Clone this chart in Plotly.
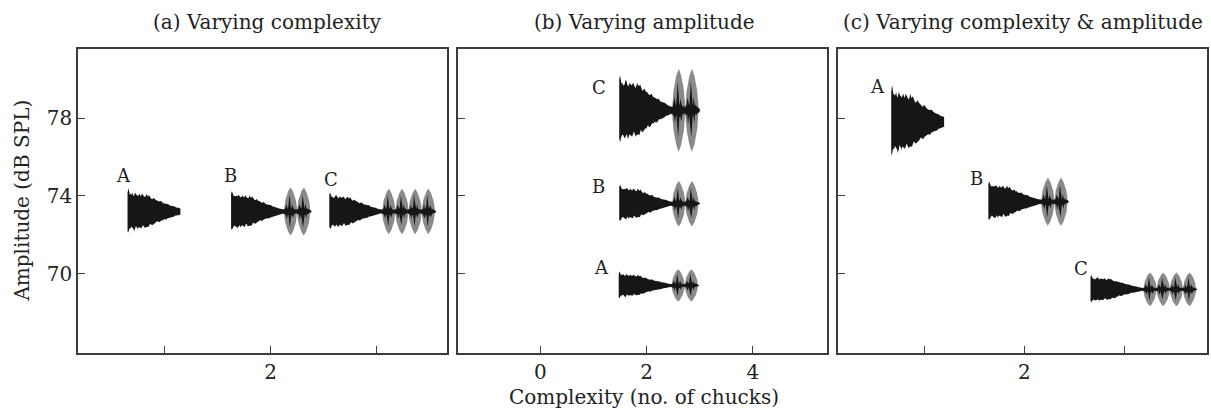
import numpy as np
import plotly.graph_objects as go

# ---------------- data ----------------
panel_titles = ["(a) Varying complexity", "(b) Varying amplitude",
                "(c) Varying complexity & amplitude"]
call_labels = ["A", "B", "C"]
# glyph centre on the complexity axis
complexity_a = [-0.2, 2.0, 4.1]
complexity_b = [2.22, 2.23, 2.23]
complexity_c = [-0.13, 2.07, 4.37]
# amplitude (dB SPL) of each call
amplitude_a = [73.2, 73.2, 73.2]
amplitude_b = [69.4, 73.6, 78.4]
amplitude_c = [77.8, 73.7, 69.2]
# number of chucks in each call
chucks_a = [0, 2, 4]
chucks_b = [2, 2, 2]
chucks_c = [0, 2, 4]
y_tick_vals = [70, 74, 78]
y_tick_text = ["70", "74", "78"]
x_tick_vals = [0, 2, 4]
x_tick_text_b = ["0", "2", "4"]
x_tick_text_ac = ["", "2", ""]
x_title = "Complexity (no. of chucks)"
y_title = "Amplitude (dB SPL)"

# ---------------- style / geometry ----------------
W, H = 1211, 409
M = dict(l=78, r=2, t=49, b=56)
PW = W - M["l"] - M["r"]
PH = H - M["t"] - M["b"]
domains = [[0.0, 0.3271], [0.3369, 0.6631], [0.6731, 1.0]]
x_ranges = [[-1.632, 5.329], [-1.54, 5.385], [-1.72, 5.64]]
y_range = [65.93, 81.55]
whine_half_px = [[20.5, 18.5, 17.5], [12.5, 17.5, 32.0], [32.5, 18.5, 13.0]]
label_off_px = [[(-4, -36), (-1, -36), (2, -32)],
                [(-17, -18), (-21, -17), (-20, -23)],
                [(-14, -35), (-12, -23), (-10, -21)]]
title_shift = [5, 2, 1]
WHINE_LEN = 53.0
CHUCK_W = 13.2
BLACK = "#161616"
GREY = "#8a8a8a"
AXC = "#3c3c3c"
FONT = "DejaVu Serif"
TXT = "#222222"

panels = [
    (complexity_a, amplitude_a, chucks_a),
    (complexity_b, amplitude_b, chucks_b),
    (complexity_c, amplitude_c, chucks_c),
]

fig = go.Figure()


def jitter(t, ph):
    return (0.045 * np.sin(2 * np.pi * 8.3 * t + ph)
            + 0.035 * np.sin(2 * np.pi * 14.7 * t + 1.7 * ph + 0.4)
            + 0.03 * np.abs(np.sin(2 * np.pi * 11.1 * t + 2.3 * ph + 1.1)) ** 6
            + 0.02 * np.sin(2 * np.pi * 23.0 * t + 0.7 * ph))


def whine_profile(t, has_chucks, ph):
    end = 0.09 if has_chucks else 0.14
    u = np.clip((t - 0.4) / 0.6, 0, 1)
    plateau = 0.84 - 0.1 * np.clip(t / 0.4, 0, 1)
    base = np.where(t < 0.4, plateau, 0.74 - (0.74 - end) * u ** 0.8)
    env = base + jitter(t, ph) * np.clip(base, 0.0, 0.8) / 0.8
    env += 0.2 * np.exp(-((t - 0.018) / 0.014) ** 2)
    env += 0.09 * np.exp(-((t - 0.09 - 0.03 * ph) / 0.012) ** 2)
    env += 0.08 * np.exp(-((t - 0.22 + 0.02 * ph) / 0.012) ** 2)
    env += 0.06 * np.exp(-((t - 0.36 + 0.02 * ph) / 0.012) ** 2)
    return np.maximum(env, end * 0.8)


def add_poly(xref_axis, yref_axis, xs, ys, color):
    fig.add_trace(go.Scatter(x=xs, y=ys, mode="lines", fill="toself",
                             fillcolor=color, line=dict(width=0, color=color),
                             hoverinfo="skip", showlegend=False,
                             xaxis=xref_axis, yaxis=yref_axis))


annotations = []
for p, (cx_list, amp_list, nch_list) in enumerate(panels):
    xa = "x" if p == 0 else f"x{p + 1}"
    ya = "y" if p == 0 else f"y{p + 1}"
    pxx = (domains[p][1] - domains[p][0]) * PW / (x_ranges[p][1] - x_ranges[p][0])
    pxy = PH / (y_range[1] - y_range[0])
    for i in range(3):
        cx, cy, n = cx_list[i], amp_list[i], nch_list[i]
        h = whine_half_px[p][i]
        hc = 1.3 * h
        total = WHINE_LEN + n * CHUCK_W
        x0 = cx - total / 2 / pxx  # whine start in data units

        # whine
        t = np.linspace(0, 1, 260)
        top = whine_profile(t, n > 0, 0.0 + 0.5 * i) * h
        bot = whine_profile(t, n > 0, 1.3 + 0.5 * i) * h * 0.97
        xw = x0 + t * WHINE_LEN / pxx
        xs = np.concatenate([xw, xw[::-1]])
        ys = np.concatenate([cy + top / pxy, (cy - bot / pxy)[::-1]])
        add_poly(xa, ya, xs, ys, BLACK)

        if n > 0:
            cstart = WHINE_LEN
            # grey chucks
            for k in range(n):
                u = np.linspace(0, 1, 60)
                v = np.abs(2 * u - 1)
                half = hc * (1 - v ** 1.25) ** 0.55
                xpx = cstart + (k + u) * CHUCK_W
                xs = np.concatenate([x0 + xpx / pxx, (x0 + xpx / pxx)[::-1]])
                ys = np.concatenate([cy + half / pxy, (cy - half / pxy)[::-1]])
                add_poly(xa, ya, xs, ys, GREY)
            # black core through the chucks
            L = n * CHUCK_W + 2.5
            s = np.linspace(0, L, int(L * 5))
            core_t = 0.09 * h * np.ones_like(s)
            core_b = 0.09 * h * np.ones_like(s)
            for k in range(n):
                c = (k + 0.5) * CHUCK_W
                loc = np.clip(1 - np.abs(s - c) / (0.5 * CHUCK_W), 0, 1)
                core_t += 0.12 * h * loc ** 0.7
                core_b += 0.12 * h * loc ** 0.7
                core_t += 0.58 * hc * np.clip(1 - np.abs(s - c) / 1.3, 0, 1)
                core_b += 0.52 * hc * np.clip(1 - np.abs(s - c - 0.4) / 1.3, 0, 1)
                for d, a in ((-0.25, 0.22), (0.22, 0.18)):
                    core_t += a * hc * np.clip(1 - np.abs(s - c - d * CHUCK_W) / 0.9, 0, 1)
                    core_b += (a * 0.9) * hc * np.clip(1 - np.abs(s - c - d * CHUCK_W - 0.5) / 0.9, 0, 1)
            core_t += 0.03 * h * np.sin(2 * np.pi * s / 1.7)
            core_b += 0.03 * h * np.sin(2 * np.pi * s / 2.1 + 1)
            tail = np.clip((L - s) / 2.5, 0, 1)
            core_t = np.where(s > L - 2.5, core_t * tail + 0.02 * h, core_t)
            core_b = np.where(s > L - 2.5, core_b * tail + 0.02 * h, core_b)
            xpx = cstart - 1 + s
            xs = np.concatenate([x0 + xpx / pxx, (x0 + xpx / pxx)[::-1]])
            ys = np.concatenate([cy + core_t / pxy, (cy - core_b / pxy)[::-1]])
            add_poly(xa, ya, xs, ys, BLACK)

        dx, dy = label_off_px[p][i]
        annotations.append(dict(x=x0, y=cy, xref=xa, yref=ya, text=call_labels[i],
                                showarrow=False, xshift=dx, yshift=-dy,
                                xanchor="center", yanchor="middle",
                                font=dict(family=FONT, size=18, color=TXT)))

    annotations.append(dict(x=0.5, y=(H - M["b"] - 22) / PH, xref=f"{xa} domain",
                            yref="paper", text=panel_titles[p], showarrow=False,
                            xshift=title_shift[p], xanchor="center", yanchor="middle",
                            font=dict(family=FONT, size=20, color=TXT)))

annotations.append(dict(x=(645 - M["l"]) / PW, y=(H - M["b"] - 397) / PH,
                        xref="paper", yref="paper", text=x_title, showarrow=False,
                        xanchor="center", yanchor="middle",
                        font=dict(family=FONT, size=20, color=TXT)))
annotations.append(dict(x=(21.5 - M["l"]) / PW, y=0.5, xref="paper", yref="paper",
                        text=y_title, textangle=-90, showarrow=False,
                        xanchor="center", yanchor="middle",
                        font=dict(family=FONT, size=20, color=TXT)))

axis_common = dict(showline=True, mirror=True, linecolor=AXC, linewidth=1.5,
                   ticks="inside", ticklen=7, tickwidth=1.3, tickcolor=AXC,
                   showgrid=False, zeroline=False, fixedrange=True,
                   tickfont=dict(family=FONT, size=20, color=TXT))
layout = dict(width=W, height=H, margin=M, paper_bgcolor="white", plot_bgcolor="white",
              annotations=annotations, showlegend=False)
for p in range(3):
    xk = "xaxis" if p == 0 else f"xaxis{p + 1}"
    yk = "yaxis" if p == 0 else f"yaxis{p + 1}"
    ya = "y" if p == 0 else f"y{p + 1}"
    xa = "x" if p == 0 else f"x{p + 1}"
    layout[xk] = dict(axis_common, domain=domains[p], range=x_ranges[p], anchor=ya,
                      tickvals=x_tick_vals,
                      ticktext=x_tick_text_b if p == 1 else x_tick_text_ac)
    layout[yk] = dict(axis_common, domain=[0, 1], range=y_range, anchor=xa,
                      tickvals=y_tick_vals,
                      ticktext=y_tick_text if p == 0 else ["", "", ""])
fig.update_layout(**layout)

fig.write_html("out.html", config={"displayModeBar": False},
               post_script="document.body.style.margin='0';")
